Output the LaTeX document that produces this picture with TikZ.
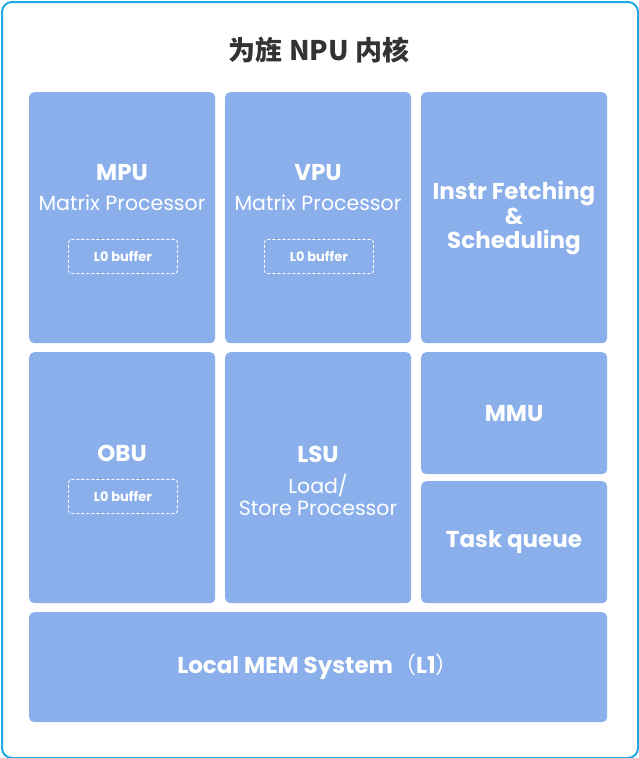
\documentclass[tikz,border=0pt]{standalone}
\usepackage{fontspec}
\setmainfont{Poppins}
\newfontfamily\cjk{Noto Sans CJK SC}
\definecolor{blk}{HTML}{8AAFEA}
\definecolor{frame}{HTML}{1AA9E0}
\definecolor{ttl}{HTML}{333333}
\begin{document}
\begin{tikzpicture}[x=1pt,y=-1pt,
  blkbox/.style={fill=blk,draw=none,rounded corners=5pt,anchor=north west,inner sep=0pt},
  dbox/.style={draw=white,dashed,dash pattern=on 3pt off 2pt,line width=0.9pt,rounded corners=3pt,anchor=north west,inner sep=0pt,minimum width=109pt,minimum height=34pt},
  hd/.style={text=white,font=\fontsize{23}{25}\selectfont\bfseries,inner sep=0pt},
  sub/.style={text=white,font=\fontsize{20.5}{22}\selectfont,inner sep=0pt,align=center},
  sm/.style={text=white,font=\fontsize{13}{14}\selectfont\bfseries,inner sep=0pt}]
\useasboundingbox (0,0) rectangle (638,758);
\node[draw=frame,line width=2pt,rounded corners=10pt,minimum width=636pt,minimum height=756pt,anchor=north west,inner sep=0pt] (outer) at (1,1) {};
\node[text=ttl,font=\cjk\bfseries\fontsize{27}{30}\selectfont,inner sep=0pt] (title) at (319,50) {为旌 NPU 内核};
% row 1
\node[blkbox,minimum width=186pt,minimum height=251pt] (mpu) at (29,92) {};
\node[blkbox,minimum width=186pt,minimum height=251pt] (vpu) at (225,92) {};
\node[blkbox,minimum width=186pt,minimum height=251pt] (ifs) at (421,92) {};
% row 2
\node[blkbox,minimum width=186pt,minimum height=251pt] (obu) at (29,352) {};
\node[blkbox,minimum width=186pt,minimum height=251pt] (lsu) at (225,352) {};
\node[blkbox,minimum width=186pt,minimum height=122pt] (mmu) at (421,352) {};
\node[blkbox,minimum width=186pt,minimum height=122pt] (tq) at (421,481) {};
% bottom
\node[blkbox,minimum width=578pt,minimum height=110pt] (mem) at (29,612) {};
% texts
\node[hd] (mputxt) at (122,173) {MPU};
\node[sub] (mpusub) at (122,203) {Matrix Processor};
\node[dbox] (mpul0) at (68,239) {};
\node[sm] at (mpul0.center) {L0 buffer};
\node[hd] (vputxt) at (318,173) {VPU};
\node[sub] (vpusub) at (318,203) {Matrix Processor};
\node[dbox] (vpul0) at (264,239) {};
\node[sm] at (vpul0.center) {L0 buffer};
\node[hd,align=center,font=\fontsize{23}{24.5}\selectfont\bfseries] (ifstxt) at (514,218) {Instr Fetching\\\&\\Scheduling};
\node[hd] (obutxt) at (122,453) {OBU};
\node[dbox] (obul0) at (68,479) {};
\node[sm] at (obul0.center) {L0 buffer};
\node[hd] (lsutxt) at (318,454) {LSU};
\node[sub] (lsusub) at (318,495) {Load/\\Store Processor};
\node[hd] (mmutxt) at (514,414) {MMU};
\node[hd] (tqtxt) at (514,542) {Task queue};
\node[hd] (memtxt) at (318,667) {Local MEM System{\cjk\mdseries （}L1{\cjk\mdseries ）}};
\end{tikzpicture}
\end{document}
